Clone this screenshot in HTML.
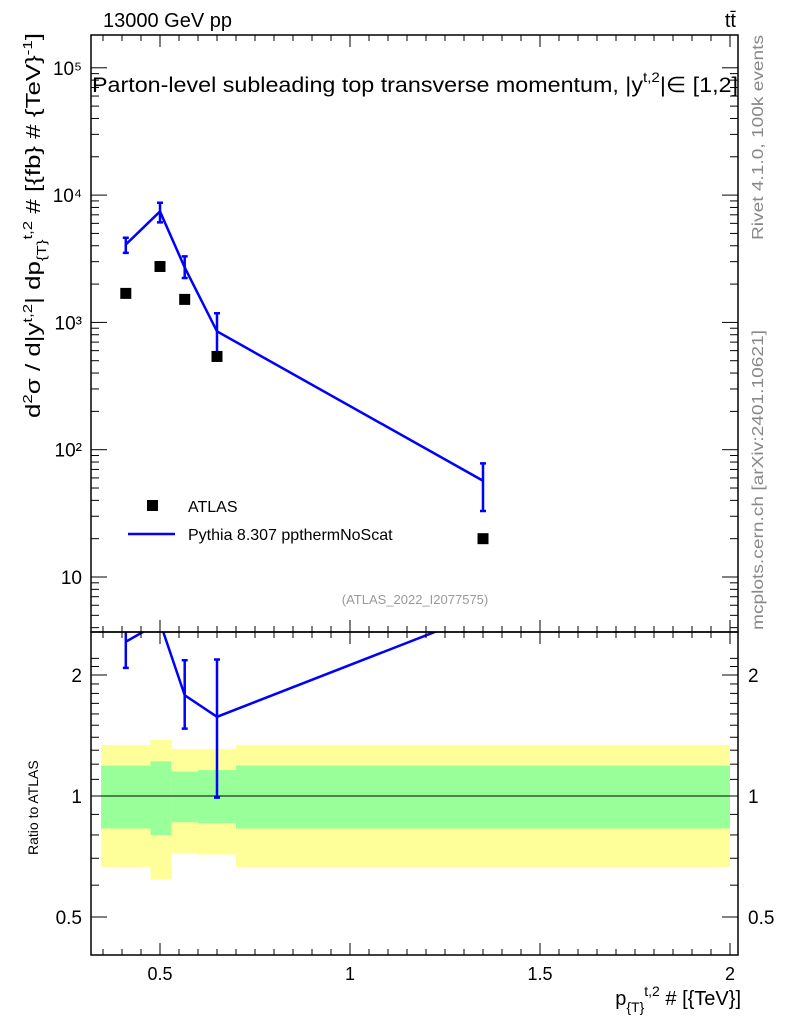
<!DOCTYPE html>
<html><head><meta charset="utf-8"><style>
body{margin:0;background:#fff;}
svg text{font-family:"Liberation Sans",sans-serif;}
</style></head><body>
<svg id="c" width="786" height="1024" xmlns="http://www.w3.org/2000/svg">
<g id="bands"></g><g id="grid"></g><g id="marks"></g><g id="axes"></g>
<text x="103" y="27" font-size="20">13000 GeV pp</text>
<text x="736" y="27" font-size="20" text-anchor="end">tt̄</text>
<text x="92" y="92" font-size="21.5" textLength="646" lengthAdjust="spacingAndGlyphs">Parton-level subleading top transverse momentum, |y<tspan dy="-10" font-size="14">t,2</tspan><tspan dy="10">|∈ [1,2]</tspan></text>
<text x="415" y="604" font-size="13" fill="#999" text-anchor="middle">(ATLAS_2022_I2077575)</text>
<text transform="translate(763,240) rotate(-90)" font-size="16" fill="#888" textLength="205" lengthAdjust="spacingAndGlyphs">Rivet 4.1.0,  100k events</text>
<text transform="translate(763,630) rotate(-90)" font-size="16" fill="#888" textLength="300" lengthAdjust="spacingAndGlyphs">mcplots.cern.ch [arXiv:2401.10621]</text>
<text transform="translate(40,418) rotate(-90)" font-size="20" textLength="385" lengthAdjust="spacingAndGlyphs">d<tspan dy="-8" font-size="13">2</tspan><tspan dy="8">σ / d|y</tspan><tspan dy="-8" font-size="13">t,2</tspan><tspan dy="8">| dp</tspan><tspan dy="6" font-size="13">{T}</tspan><tspan dy="-14" font-size="13">t,2</tspan><tspan dy="8"> # [{fb} # {TeV}</tspan><tspan dy="-8" font-size="13">-1</tspan><tspan dy="8">]</tspan></text>
<text transform="translate(38,855) rotate(-90)" font-size="14">Ratio to ATLAS</text>
<text x="741" y="1005" font-size="20" text-anchor="end">p<tspan dy="7" font-size="14">{T}</tspan><tspan dy="-16" font-size="14">t,2</tspan><tspan dy="9"> # [{TeV}]</tspan></text>
<rect x="147" y="500" width="11" height="11" fill="#000"/>
<text x="188" y="512" font-size="16">ATLAS</text>
<line x1="128" y1="534" x2="175" y2="534" stroke="#00f" stroke-width="2.5"/>
<text x="188" y="540" font-size="16">Pythia 8.307 ppthermNoScat</text>
</svg>
<script>
const xs=[0.41,0.5,0.565,0.65,1.35];
const atlas=[1690,2750,1516,540,20];
const pythia=[4090,7440,2700,850,57];
const pyLo=[3520,6100,2230,535,33];
const pyHi=[4620,8700,3300,1180,78];
const binEdges=[0.345,0.475,0.53,0.6,0.7,2.0];
const yelLo=[0.666,0.62,0.72,0.715,0.666];
const yelHi=[1.34,1.38,1.31,1.31,1.34];
const grnLo=[0.83,0.80,0.86,0.855,0.83];
const grnHi=[1.19,1.22,1.15,1.16,1.19];
const xTicks=[0.5,1,1.5,2];
const xTickLabels=["0.5","1","1.5","2"];
const yDecades=[1,2,3,4,5];
const yTickLabels=["10","10²","10³","10⁴","10⁵"];
const rTicks=[0.5,1,2];

const NS="http://www.w3.org/2000/svg";
const L=91,R=738,T=35,MB=632,RB=955;
const X=v=>160+(v-0.5)*380;
const Y=v=>577-(Math.log10(v)-1)*127.3;
const RY=v=>796-Math.log2(v)*121;
function mk(p,tag,a){const e=document.createElementNS(NS,tag);for(const k in a)e.setAttribute(k,a[k]);document.getElementById(p).appendChild(e);return e;}
for(let i=0;i<yelLo.length;i++){
 let e=mk('bands','rect',{x:X(binEdges[i]),width:X(binEdges[i+1])-X(binEdges[i]),y:RY(yelHi[i]),height:RY(yelLo[i])-RY(yelHi[i]),fill:'#ffff99'});
 
 
 let g=mk('bands','rect',{x:X(binEdges[i]),width:X(binEdges[i+1])-X(binEdges[i]),y:RY(grnHi[i]),height:RY(grnLo[i])-RY(grnHi[i]),fill:'#99ff99'});
 
 
}
mk('bands','line',{x1:L,x2:R,y1:RY(1),y2:RY(1),stroke:'#000','stroke-width':1});
for(const [t,b] of [[T,MB],[MB,RB]]){
 const f=mk('axes','rect',{x:L,y:t,width:R-L,height:b-t,fill:'none',stroke:'#000','stroke-width':1.5});
 
 
}
for(let v=0.35;v<=2.01;v+=0.05){const maj=Math.abs(v*2-Math.round(v*2))<1e-6;const l=maj?12:6;
 for(const yb of [MB,RB]){mk('axes','line',{x1:X(v),x2:X(v),y1:yb,y2:yb-l,stroke:'#000'});}
 mk('axes','line',{x1:X(v),x2:X(v),y1:T,y2:T+l,stroke:'#000'});mk('axes','line',{x1:X(v),x2:X(v),y1:MB,y2:MB+l,stroke:'#000'});}
xTicks.forEach((v,i)=>{const t=mk('axes','text',{x:X(v),y:980,'font-size':18,'text-anchor':'middle'});t.textContent=xTickLabels[i];
 
 });
for(let d=0;d<=5;d++)for(let m=1;m<10;m++){const v=m*Math.pow(10,d);const y=Y(v);if(y<T||y>MB)continue;const l=m==1?16:8;
 mk('axes','line',{x1:L,x2:L+l,y1:y,y2:y,stroke:'#000'});mk('axes','line',{x1:R,x2:R-l,y1:y,y2:y,stroke:'#000'});}
yDecades.forEach((d,i)=>{const t=mk('axes','text',{x:82,y:Y(Math.pow(10,d))+7,'font-size':19,'text-anchor':'end'});t.textContent=yTickLabels[i];
 
 });
for(let v=0.4;v<=2.3;v+=0.1){const y=RY(v);if(y<MB||y>RB)continue;const maj=rTicks.some(r=>Math.abs(r-v)<1e-6);const l=maj?16:8;
 mk('axes','line',{x1:L,x2:L+l,y1:y,y2:y,stroke:'#000'});mk('axes','line',{x1:R,x2:R-l,y1:y,y2:y,stroke:'#000'});}
rTicks.forEach(v=>{for(const [x,a] of [[82,'end'],[748,'start']]){const t=mk('axes','text',{x:x,y:RY(v)+7,'font-size':19,'text-anchor':a});t.textContent=String(v);
 
 }});
mk('marks','polyline',{points:xs.map((x,i)=>X(x)+','+Y(pythia[i])).join(' '),fill:'none',stroke:'#00f','stroke-width':2.5});
xs.forEach((x,i)=>{
 const e=mk('marks','path',{d:`M${X(x)},${Y(pyLo[i])}V${Y(pyHi[i])}M${X(x)-3},${Y(pyLo[i])}h6M${X(x)-3},${Y(pyHi[i])}h6`,stroke:'#00f','stroke-width':2.5,fill:'none'});
 
 
 const p=mk('marks','rect',{x:X(x)-5.5,y:Y(atlas[i])-5.5,width:11,height:11,fill:'#000'});
 
 
});
const cp=mk('marks','clipPath',{id:'rc'});const cr=document.createElementNS(NS,'rect');
cr.setAttribute('x',L);cr.setAttribute('y',MB);cr.setAttribute('width',R-L);cr.setAttribute('height',RB-MB);cp.appendChild(cr);
const rg=mk('marks','g',{'clip-path':'url(#rc)'});rg.setAttribute('id','rg');
const ratio=xs.map((x,i)=>pythia[i]/atlas[i]);
mk('rg','polyline',{points:xs.map((x,i)=>X(x)+','+RY(ratio[i])).join(' '),fill:'none',stroke:'#00f','stroke-width':2.5});
xs.forEach((x,i)=>{const c=RY(ratio[i]);if(c<MB||c>RB)return;const lo=RY(pyLo[i]/atlas[i]),hi=RY(pyHi[i]/atlas[i]);
 const e=mk('rg','path',{d:`M${X(x)},${lo}V${hi}M${X(x)-3},${lo}h6M${X(x)-3},${hi}h6`,stroke:'#00f','stroke-width':2.5,fill:'none'});
 
 });
</script>
</body></html>
